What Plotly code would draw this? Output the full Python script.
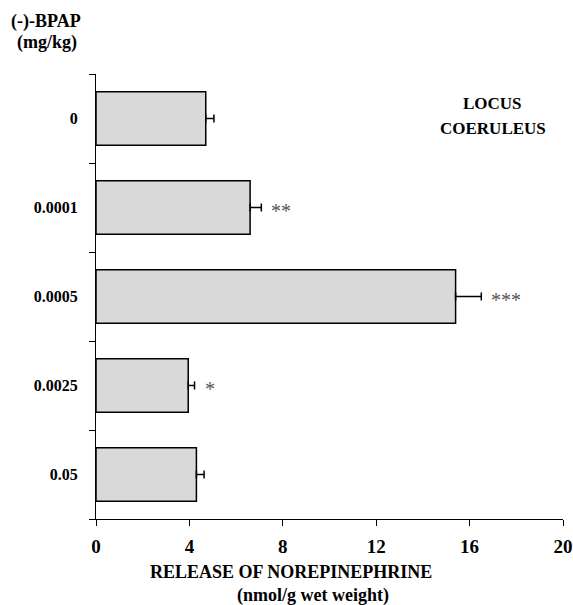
import plotly.graph_objects as go

doses = ["0", "0.0001", "0.0005", "0.0025", "0.05"]
release = [4.7, 6.6, 15.4, 3.95, 4.3]
sem = [0.35, 0.48, 1.1, 0.27, 0.33]
signif = ["", "**", "***", "*", ""]
x_ticks = [0, 4, 8, 12, 16, 20]

FONT = "Liberation Serif, Times New Roman, serif"

fig = go.Figure()
fig.add_trace(go.Bar(
    y=doses, x=release, orientation="h",
    marker=dict(color="#d9d9d9", line=dict(color="black", width=1.5)),
    width=0.6,
    error_x=dict(type="data", symmetric=False, array=sem,
                 arrayminus=[0] * len(sem), color="black", thickness=1.5, width=4),
    showlegend=False,
))

for i, (v, e, s) in enumerate(zip(release, sem, signif)):
    if s:
        fig.add_annotation(x=v + e, y=i, text=s, showarrow=False, xanchor="left",
                           xshift=8, yshift=-3, font=dict(family=FONT, size=20, color="#555"))

def label(text, x, y, size=17):
    fig.add_annotation(text=f"<b>{text}</b>", xref="paper", yref="paper", x=x, y=y,
                       showarrow=False, xanchor="center", yanchor="middle",
                       font=dict(family=FONT, size=size, color="black"))

label("(-)-BPAP", -0.107, 1.119, 18)
label("(mg/kg)", -0.105, 1.070, 18)
label("LOCUS", 0.850, 0.934)
label("COERULEUS", 0.850, 0.878)
label("RELEASE OF NOREPINEPHRINE", 0.418, -0.118, 18)
label("(nmol/g wet weight)", 0.465, -0.171, 18)

fig.update_layout(
    width=573, height=605,
    margin=dict(l=96, r=10, t=74, b=86),
    plot_bgcolor="white", paper_bgcolor="white",
    font=dict(family=FONT, size=14, color="black"),
)
fig.update_xaxes(range=[0, 20], tickvals=x_ticks, ticktext=[f"<b>{t}</b>" for t in x_ticks],
                 showline=True, linecolor="black", linewidth=1.2, ticks="outside",
                 ticklen=6, tickcolor="black", tickwidth=1.2, showgrid=False, zeroline=False,
                 ticklabeloverflow="allow", ticklabelstandoff=4, automargin=False,
                 tickfont=dict(family=FONT, size=19, color="black"))
fig.update_yaxes(type="category", categoryorder="array", categoryarray=doses,
                 autorange="reversed", automargin=False,
                 tickvals=doses, ticktext=[f"<b>{d}</b>" for d in doses],
                 tickson="boundaries", showline=True, linecolor="black", linewidth=1.2,
                 ticks="outside", ticklen=6, tickcolor="black", tickwidth=1.2,
                 showgrid=False, zeroline=False, ticklabelstandoff=14,
                 tickfont=dict(family=FONT, size=16, color="black"))

fig.write_html(
    "out.html",
    config={"displayModeBar": False},
    post_script="document.body.style.margin='0';document.body.style.overflow='hidden';",
)
